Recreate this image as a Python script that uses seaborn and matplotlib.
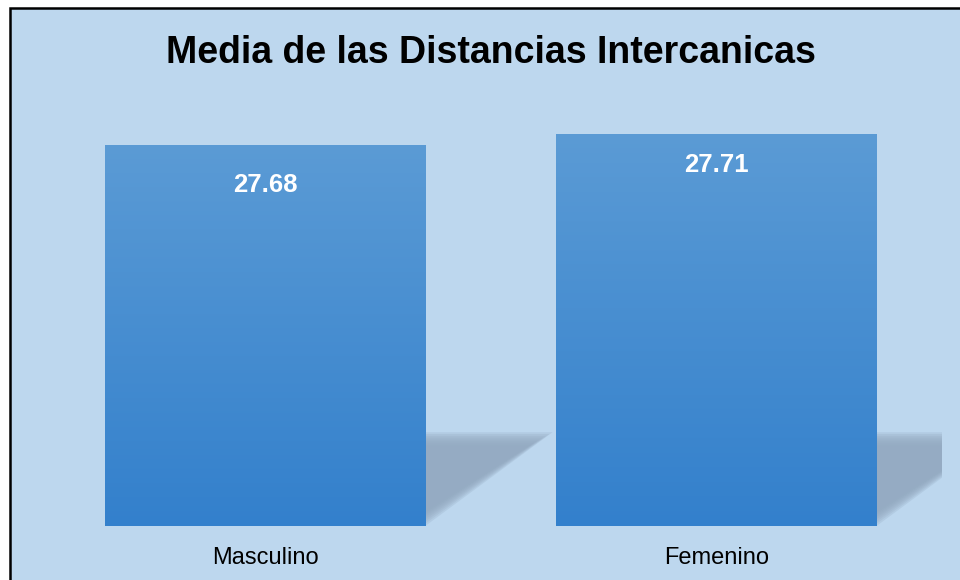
import matplotlib
matplotlib.use("Agg")
import matplotlib.pyplot as plt
import numpy as np
import pandas as pd
import seaborn as sns
from matplotlib.colors import LinearSegmentedColormap
from matplotlib.patches import Polygon, Rectangle

# Data
categories = ["Masculino", "Femenino"]
means = [27.68, 27.71]
value_labels = ["27.68", "27.71"]
title = "Media de las Distancias Intercanicas"

BG = "#BDD7EE"
BAR_TOP = "#5B9BD5"
BAR_BOTTOM = "#3380CC"
SHADOW = "#93A9C1"


def drawShadow(ax, x0, x1, base, height, skew):
    # soft, skewed shadow made of stacked translucent layers
    n = 8
    for k in range(n):
        d = k * 0.007
        dy = k * 0.005
        pts = [
            (x0 + d, base),
            (x1 - d, base),
            (x1 + skew - d, base + height - dy),
            (x0 + skew + d, base + height - dy),
        ]
        ax.add_patch(Polygon(pts, closed=True, facecolor=SHADOW, edgecolor="none",
                             alpha=0.25, zorder=1, clip_on=True))


def gradientBars(ax, bars, base):
    cmap = LinearSegmentedColormap.from_list("bar", [BAR_BOTTOM, BAR_TOP])
    grad = np.linspace(0, 1, 256).reshape(-1, 1)
    for p in bars:
        x, w = p.get_x(), p.get_width()
        top = p.get_y() + p.get_height()
        im = ax.imshow(grad, cmap=cmap, origin="lower", aspect="auto",
                       extent=[x, x + w, base, top], zorder=3, interpolation="bicubic")
        im.set_clip_path(p)


df = pd.DataFrame({"sexo": categories, "media": means})

fig = plt.figure(figsize=(9.6, 5.8), dpi=100)
fig.patch.set_facecolor("white")
fig.add_artist(Rectangle((10 / 960, -0.01), 1.0, (580 - 8) / 580 + 0.01,
                         transform=fig.transFigure, facecolor=BG,
                         edgecolor="black", linewidth=1.8, zorder=-1))

ax = fig.add_axes([39.5 / 960, (580 - 526) / 580, (942 - 39.5) / 960, (526 - 101) / 580])
ax.set_facecolor("none")

ymin, ymax = 26.64, 27.8
sns.barplot(data=df, x="sexo", y="media", color=BAR_TOP, width=0.71,
            saturation=1, ax=ax, zorder=2)
bars = [p for p in ax.patches]
for b in bars:
    b.set_edgecolor("none")
gradientBars(ax, bars, ymin)

for b in bars:
    drawShadow(ax, b.get_x(), b.get_x() + b.get_width(), ymin, 0.256, 0.282)

ax.set_xlim(-0.5, 1.5)
ax.set_ylim(ymin, ymax)

label_offsets = [-29, -22]
for b, txt, off in zip(bars, value_labels, label_offsets):
    ax.annotate(txt, (b.get_x() + b.get_width() / 2, b.get_y() + b.get_height()),
                xytext=(0, off), textcoords="offset points", ha="center", va="center",
                color="white", fontsize=18.5, fontweight="bold",
                family="Liberation Sans", zorder=5)

for s in ax.spines.values():
    s.set_visible(False)
ax.set_yticks([])
ax.set_xlabel("")
ax.set_ylabel("")
ax.tick_params(axis="x", length=0, pad=15)
for t in ax.get_xticklabels():
    t.set_fontsize(17)
    t.set_family("Liberation Sans")
    t.set_color("black")

fig.text(491 / 960, 1 - 53 / 580, title, ha="center", va="center",
         fontsize=27, fontweight="bold", family="Liberation Sans")

fig.savefig("out.png", dpi=100)
